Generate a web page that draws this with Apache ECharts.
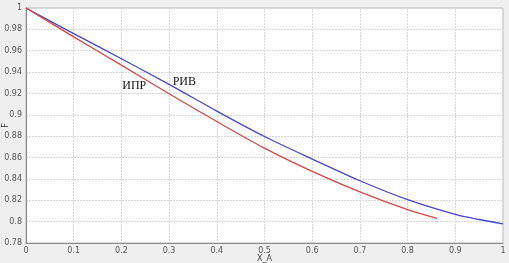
<!DOCTYPE html>
<html>
<head>
<meta charset="utf-8">
<script src="https://cdn.jsdelivr.net/npm/echarts@6/dist/echarts.min.js"></script>
<style>
  html, body { margin: 0; padding: 0; background: #efefef; }
  #chart { width: 509px; height: 263px; }
</style>
</head>
<body>
<div id="chart"></div>
<script>
const xRiv = [0, 0.1, 0.2, 0.3, 0.4, 0.5, 0.6, 0.7, 0.8, 0.9, 0.95, 1.0]
const fRiv = [1, 0.976, 0.9525, 0.9285, 0.9035, 0.8797, 0.8586, 0.8383, 0.8206, 0.8068, 0.802, 0.798]

const xIpr = [0, 0.1, 0.2, 0.3, 0.4, 0.5, 0.6, 0.7, 0.8, 0.862]
const fIpr = [1, 0.973, 0.9465, 0.9197, 0.8937, 0.8688, 0.847, 0.8278, 0.8112, 0.803]

const chart = echarts.init(document.getElementById('chart'))

const tickLabel = { color: '#555', fontSize: 8, fontFamily: 'DejaVu Sans' }

// label markers: invisible point, only the text shows
const noteMark = (text, coord) => ({
  symbol: 'circle',
  symbolSize: 1,
  itemStyle: { color: 'rgba(0,0,0,0)' },
  label: { show: true, position: 'inside', formatter: text, color: '#111', fontSize: 12, fontFamily: 'Liberation Serif' },
  data: [{ coord }]
})

chart.setOption({
  animation: false,
  backgroundColor: '#efefef',
  grid: {
    left: 26, right: 6, top: 8, bottom: 20,
    outerBoundsMode: 'none',
    containLabel: false,
    show: true,
    backgroundColor: '#fff',
    borderColor: '#bbb',
    borderWidth: 1
  },
  xAxis: {
    type: 'value',
    min: 0, max: 1, interval: 0.1,
    name: 'X_A',
    nameLocation: 'middle',
    nameMoveOverlap: false,
    nameGap: 12,
    nameTextStyle: { color: '#444', fontSize: 8, fontFamily: 'DejaVu Sans' },
    axisLine: { lineStyle: { color: '#888' } },
    axisTick: { show: false },
    axisLabel: { ...tickLabel, margin: 4, formatter: v => String(+v.toFixed(2)) },
    splitLine: { lineStyle: { color: '#d6d6d6', type: [2, 1] } }
  },
  yAxis: {
    type: 'value',
    min: 0.78, max: 1, interval: 0.02,
    name: 'F',
    nameLocation: 'middle',
    nameMoveOverlap: false,
    nameGap: 16,
    nameRotate: 90,
    nameTextStyle: { color: '#333', fontSize: 8, fontFamily: 'DejaVu Sans' },
    axisLine: { show: true, lineStyle: { color: '#888' } },
    axisTick: { show: false },
    axisLabel: { ...tickLabel, margin: 4, formatter: v => String(+v.toFixed(2)) },
    splitLine: { lineStyle: { color: '#d6d6d6', type: [2, 1] } }
  },
  series: [
    {
      type: 'line',
      data: xRiv.map((x, i) => [x, fRiv[i]]),
      smooth: 0.3,
      showSymbol: false,
      lineStyle: { color: '#4646c4', width: 1.3 },
      markPoint: noteMark('РИВ', [0.332, 0.931])
    },
    {
      type: 'line',
      data: xIpr.map((x, i) => [x, fIpr[i]]),
      smooth: 0.3,
      showSymbol: false,
      lineStyle: { color: '#d04848', width: 1.3 },
      markPoint: noteMark('ИПР', [0.227, 0.927])
    }
  ]
})
</script>
</body>
</html>
